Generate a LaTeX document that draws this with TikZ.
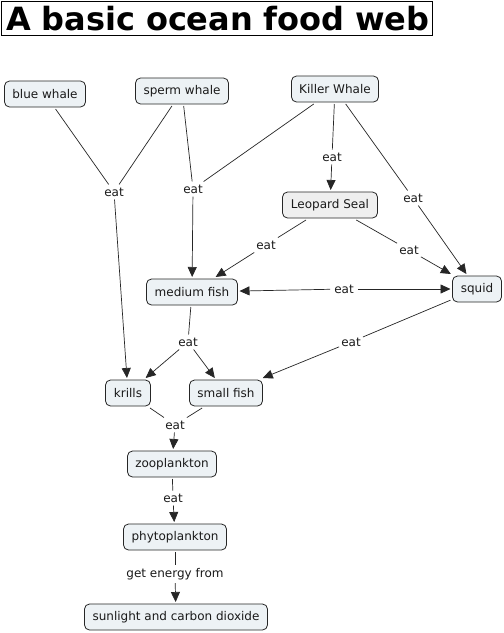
\documentclass[tikz,border=0pt]{standalone}
\usepackage{fontspec}
\setmainfont{DejaVu Sans}
\usetikzlibrary{arrows.meta}
\definecolor{cfill}{HTML}{EDF2F5}
\definecolor{gfill}{HTML}{EFEFEF}
\definecolor{txt}{HTML}{1A1A1A}
\begin{document}
\begin{tikzpicture}[x=1pt,y=-1pt,
  concept/.style={draw=black!85, fill=cfill, rounded corners=5pt, line width=0.8pt,
    minimum height=26pt, inner xsep=2pt, text=txt, font=\fontsize{12}{13}\selectfont, outer sep=2pt},
  lbl/.style={inner xsep=2pt, inner ysep=3pt, text=txt, font=\fontsize{12}{13}\selectfont},
  link/.style={draw=black!85, line width=0.7pt},
  arr/.style={link, -{Triangle[length=10pt,width=9pt]}}]
\useasboundingbox (0,0) rectangle (504,633);
\fill[white] (0,0) rectangle (504,633);
% title
\node[draw, line width=0.9pt, inner sep=0pt, text width=431pt, minimum height=34pt, anchor=north west,
  align=left, font=\fontsize{32}{34}\bfseries\selectfont] (title) at (1,1) {\hspace*{5pt}A basic ocean food web};
% concepts
\node[concept, minimum width=81pt] (blue) at (45,94) {blue whale};
\node[concept, minimum width=93pt] (sperm) at (182,91) {sperm whale};
\node[concept, minimum width=87pt] (killer) at (335,89) {Killer Whale};
\node[concept, fill=gfill, minimum width=95pt] (leopard) at (330,205) {Leopard Seal};
\node[concept, minimum width=49pt] (squid) at (477,289) {squid};
\node[concept, minimum width=91pt] (medfish) at (192,292) {medium fish};
\node[concept, minimum width=45pt] (krills) at (128,393) {krills};
\node[concept, minimum width=73pt] (smallfish) at (226,393) {small fish};
\node[concept, minimum width=89pt] (zoo) at (172,464) {zooplankton};
\node[concept, minimum width=103pt] (phyto) at (175,537) {phytoplankton};
\node[concept, minimum width=183pt] (sun) at (176,617) {sunlight and carbon dioxide};
% labels
\node[lbl] (e1) at (114,192) {eat};
\node[lbl] (e2) at (193,189) {eat};
\node[lbl] (e3) at (332,157) {eat};
\node[lbl] (e4) at (413,198) {eat};
\node[lbl] (e5) at (266,245) {eat};
\node[lbl] (e6) at (409,250) {eat};
\node[lbl, inner xsep=4pt] (e7) at (344,289) {eat};
\node[lbl] (e8) at (351,342) {eat};
\node[lbl] (e9) at (188,342) {eat};
\node[lbl] (e10) at (175,425) {eat};
\node[lbl] (e11) at (173,498) {eat};
\node[lbl] (e12) at (175,574) {get energy from};
% links
\draw[link] (blue) -- (e1);
\draw[link] (sperm) -- (e1);
\draw[arr] (e1) -- (krills);
\draw[link] (sperm) -- (e2);
\draw[link] (killer) -- (e2);
\draw[arr] (e2) -- (medfish);
\draw[link] (killer) -- (e3);
\draw[arr] (e3) -- (leopard);
\draw[link] (killer) -- (e4);
\draw[arr] (e4) -- (squid);
\draw[link] (leopard) -- (e5);
\draw[arr] (e5) -- (medfish);
\draw[link] (leopard) -- (e6);
\draw[arr] (e6) -- (squid);
\draw[arr] (e7) -- (medfish);
\draw[arr] (e7) -- (squid);
\draw[link] (squid) -- (e8);
\draw[arr] (e8) -- (smallfish);
\draw[link] (medfish) -- (e9);
\draw[arr] (e9) -- (krills);
\draw[arr] (e9) -- (smallfish);
\draw[link] (krills) -- (e10);
\draw[link] (smallfish) -- (e10);
\draw[arr] (e10) -- (zoo);
\draw[link] (zoo) -- (e11);
\draw[arr] (e11) -- (phyto);
\draw[link] (phyto) -- (e12);
\draw[arr] (e12) -- (sun);
\end{tikzpicture}
\end{document}
